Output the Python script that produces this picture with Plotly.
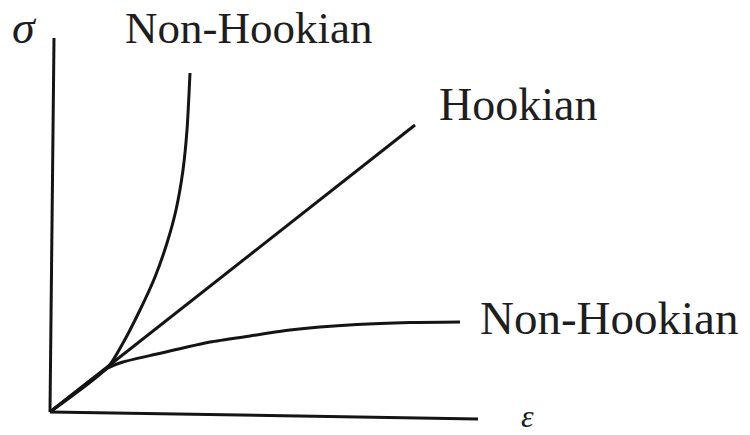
import plotly.graph_objects as go

# Stress–strain sketch: strain (epsilon) on x, stress (sigma) on y, arbitrary units
hookean_strain = [0.0, 3.65]
hookean_stress = [0.0, 2.87]

# Stiffening (upper) non-Hookean response
stiff_strain = [0.0, 0.58, 0.73, 0.90, 1.05, 1.17, 1.26, 1.33, 1.37, 1.40]
stiff_stress = [0.0, 0.45, 0.69, 1.02, 1.35, 1.69, 2.02, 2.42, 2.82, 3.39]

# Softening (lower) non-Hookean response
soft_strain = [0.0, 0.58, 0.73, 1.07, 1.60, 2.00, 2.40, 3.07, 3.60, 4.10]
soft_stress = [0.0, 0.44, 0.50, 0.58, 0.70, 0.76, 0.82, 0.875, 0.895, 0.90]

# Hand-drawn axis lines
y_axis_x = [0.0, 0.04]
y_axis_y = [0.0, 3.74]
x_axis_x = [0.0, 4.28]
x_axis_y = [0.0, -0.07]

INK = "#141414"
W = 3

fig = go.Figure()
fig.add_trace(go.Scatter(x=y_axis_x, y=y_axis_y, mode="lines",
                         line=dict(color=INK, width=W)))
fig.add_trace(go.Scatter(x=x_axis_x, y=x_axis_y, mode="lines",
                         line=dict(color=INK, width=W)))
fig.add_trace(go.Scatter(x=hookean_strain, y=hookean_stress, mode="lines",
                         line=dict(color=INK, width=W)))
fig.add_trace(go.Scatter(x=stiff_strain, y=stiff_stress, mode="lines",
                         line=dict(color=INK, width=W, shape="spline", smoothing=0.7)))
fig.add_trace(go.Scatter(x=soft_strain, y=soft_stress, mode="lines",
                         line=dict(color=INK, width=W, shape="spline", smoothing=0.6)))

serif = "Liberation Serif, Times New Roman, serif"
labels = [
    dict(text="Non-Hookian", x=0.73, y=3.84, xanchor="left", size=45),
    dict(text="Hookian", x=3.87, y=3.08, xanchor="left", size=46),
    dict(text="Non-Hookian", x=4.28, y=0.94, xanchor="left", size=47),
    dict(text="<i>σ</i>", x=-0.26, y=3.85, xanchor="center", size=46),
    dict(text="<i>ε</i>", x=4.77, y=-0.035, xanchor="center", size=32),
]
for lb in labels:
    fig.add_annotation(x=lb["x"], y=lb["y"], xref="x", yref="y", text=lb["text"],
                       showarrow=False, xanchor=lb["xanchor"], yanchor="middle",
                       font=dict(family=serif, size=lb["size"], color="#1e1e1e"))

fig.update_layout(
    width=750, height=435,
    margin=dict(l=0, r=0, t=0, b=0),
    paper_bgcolor="white", plot_bgcolor="white",
    showlegend=False,
    xaxis=dict(range=[-0.5, 7.0], visible=False, fixedrange=True),
    yaxis=dict(range=[-0.23, 4.12], visible=False, fixedrange=True),
)

fig.write_html("out.html")
